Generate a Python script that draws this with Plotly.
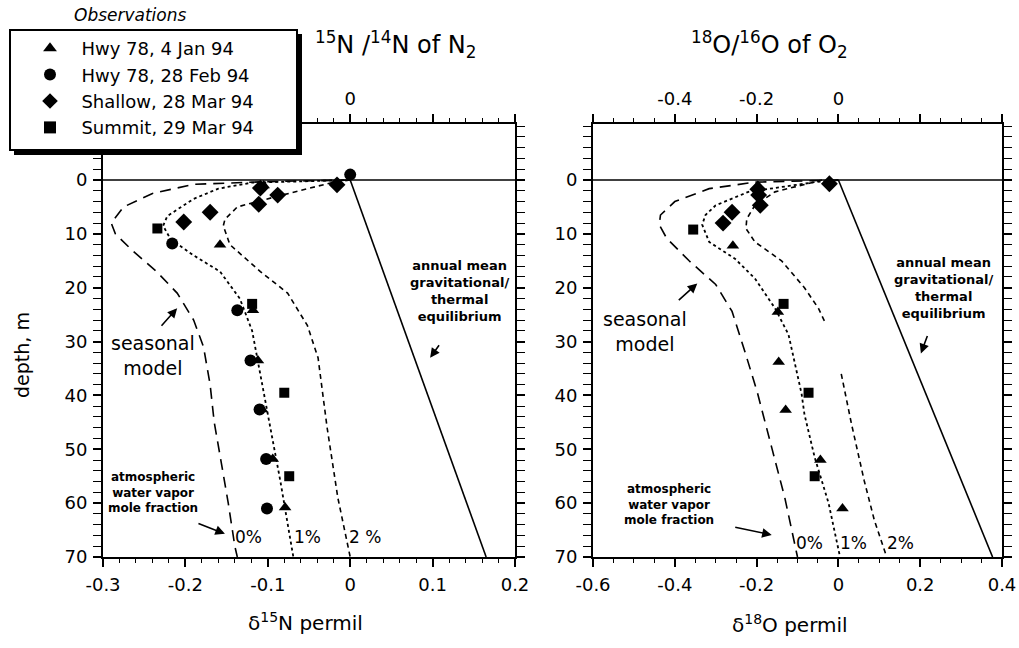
import plotly.graph_objects as go

# ---------------- data ----------------
# delta 15N (left panel)
n_jan_depth = [1.0, 12, 24.2, 33.5, 42.6, 51.8, 60.8]
n_jan_val = [-0.105, -0.158, -0.118, -0.112, -0.107, -0.094, -0.079]
n_feb_depth = [-1.0, 11.8, 24.2, 33.5, 42.6, 51.8, 61]
n_feb_val = [0.0, -0.216, -0.137, -0.121, -0.110, -0.102, -0.101]
n_sha_depth = [0.9, 1.5, 2.8, 4.5, 6, 7.8]
n_sha_val = [-0.016, -0.109, -0.088, -0.111, -0.170, -0.202]
n_sum_depth = [9, 23, 39.5, 55]
n_sum_val = [-0.234, -0.119, -0.080, -0.074]

n_m0_depth = [0, 0.3, 0.8, 2.5, 5, 8, 10, 13, 17, 21, 26, 31, 38, 45, 52, 60, 68, 70]
n_m0_val = [0.0, -0.10, -0.19, -0.24, -0.275, -0.29, -0.285, -0.265, -0.235, -0.21, -0.19, -0.178, -0.17, -0.165, -0.157, -0.148, -0.14, -0.137]
n_m1_depth = [0, 0.2, 0.5, 1.6, 3.5, 6.7, 8.5, 11, 14, 17, 22, 28, 39.5, 46, 55.7, 70]
n_m1_val = [0.0, -0.05, -0.12, -0.16, -0.19, -0.222, -0.227, -0.218, -0.19, -0.158, -0.134, -0.119, -0.105, -0.097, -0.085, -0.069]
n_m2_depth = [0, 0.4, 3, 5, 7.3, 8.5, 12, 17, 21, 27, 33, 40, 46, 59, 70]
n_m2_val = [0.0, -0.02, -0.088, -0.137, -0.152, -0.154, -0.146, -0.109, -0.076, -0.052, -0.039, -0.033, -0.028, -0.015, 0.0]
n_eq_depth = [0, 70]
n_eq_val = [0.0, 0.165]

# delta 18O (right panel)
o_jan_depth = [1.1, 12.2, 24.5, 33.8, 42.7, 52, 61]
o_jan_val = [-0.197, -0.258, -0.148, -0.146, -0.129, -0.044, 0.01]
o_sha_depth = [0.7, 1.7, 2.8, 4.7, 6, 8]
o_sha_val = [-0.022, -0.197, -0.195, -0.191, -0.26, -0.282]
o_sum_depth = [9.2, 23, 39.5, 55]
o_sum_val = [-0.355, -0.134, -0.073, -0.058]

o_m0_depth = [0, 0.4, 1.6, 4, 6.5, 8.3, 10.8, 15, 19.4, 24.4, 32, 39.5, 49.7, 59, 69.3, 70]
o_m0_val = [0.0, -0.204, -0.316, -0.4, -0.435, -0.438, -0.42, -0.365, -0.3, -0.26, -0.228, -0.198, -0.163, -0.131, -0.102, -0.1]
o_m1_depth = [0, 0.4, 2.2, 4.7, 6.5, 8.3, 11.5, 14.6, 18.3, 23.8, 28.7, 39.7, 43.5, 51.5, 60, 70]
o_m1_val = [0.0, -0.058, -0.22, -0.3, -0.325, -0.333, -0.316, -0.253, -0.204, -0.155, -0.122, -0.09, -0.083, -0.058, -0.024, 0.004]
o_m2_depth = [0, 2.2, 4.7, 7.2, 9, 11.5, 15, 20, 23.8, 26.2, None, 36, 45.3, 55.8, 63.2, 70]
o_m2_val = [-0.04, -0.155, -0.204, -0.224, -0.226, -0.204, -0.139, -0.083, -0.049, -0.034, None, 0.007, 0.032, 0.063, 0.088, 0.118]
o_eq_depth = [0, 70]
o_eq_val = [0.0, 0.377]

series_names = ["Hwy 78, 4 Jan 94", "Hwy 78, 28 Feb 94", "Shallow, 28 Mar 94", "Summit, 29 Mar 94"]
y_ticks = [0, 10, 20, 30, 40, 50, 60, 70]

# ---------------- figure ----------------
W, H = 1019, 648
FONT = "DejaVu Sans, Arial, sans-serif"
fig = go.Figure()

sym = {"jan": ("triangle-up", 11), "feb": ("circle", 12), "sha": ("diamond", 13), "sum": ("square", 10)}
PAD = "\u00a0\u00a0"


def add_points(x, y, key, name, xa, ya, show):
    s, sz = sym[key]
    fig.add_trace(go.Scatter(x=x, y=y, mode="markers", name=PAD + name, showlegend=show,
                             marker=dict(symbol=s, size=sz, color="black"),
                             xaxis=xa, yaxis=ya))


def add_line(x, y, dash, xa, ya, width=1.6):
    fig.add_trace(go.Scatter(x=x, y=y, mode="lines", showlegend=False, connectgaps=False,
                             line=dict(color="black", width=width, dash=dash),
                             xaxis=xa, yaxis=ya, hoverinfo="skip"))


LONG = "11px,7px"
SHORT = "5px,4px"
# left
add_line(n_m0_val, n_m0_depth, LONG, "x", "y")
add_line(n_m1_val, n_m1_depth, "dot", "x", "y", 1.8)
add_line(n_m2_val, n_m2_depth, SHORT, "x", "y")
add_line(n_eq_val, n_eq_depth, "solid", "x", "y", 1.6)
add_points(n_jan_val, n_jan_depth, "jan", series_names[0], "x", "y", True)
add_points(n_feb_val, n_feb_depth, "feb", series_names[1], "x", "y", True)
add_points(n_sha_val, n_sha_depth, "sha", series_names[2], "x", "y", True)
add_points(n_sum_val, n_sum_depth, "sum", series_names[3], "x", "y", True)
# right
add_line(o_m0_val, o_m0_depth, LONG, "x2", "y2")
add_line(o_m1_val, o_m1_depth, "dot", "x2", "y2", 1.8)
add_line(o_m2_val, o_m2_depth, SHORT, "x2", "y2")
add_line(o_eq_val, o_eq_depth, "solid", "x2", "y2", 1.6)
add_points(o_jan_val, o_jan_depth, "jan", series_names[0], "x2", "y2", False)
add_points(o_sha_val, o_sha_depth, "sha", series_names[2], "x2", "y2", False)
add_points(o_sum_val, o_sum_depth, "sum", series_names[3], "x2", "y2", False)

xd1 = [103 / W, 515 / W]
xd2 = [593 / W, 1002 / W]
yd = [1 - 557 / H, 1 - 124 / H]
YR = [70, -10.4]

tickfont = dict(family=FONT, size=18, color="black")
common_x = dict(showgrid=False, zeroline=False, showline=True, linecolor="black", linewidth=2,
                mirror="allticks", ticks="outside", ticklen=8, tickwidth=1.5, tickcolor="black",
                tickfont=tickfont, ticklabelstandoff=2, automargin=False)
common_y = dict(showgrid=False, zeroline=False, showline=True, linecolor="black", linewidth=2,
                mirror="allticks", ticks="outside", ticklen=8, tickwidth=1.5, tickcolor="black",
                tickfont=tickfont, range=YR, tickvals=y_ticks, ticklabelstandoff=2, automargin=False,
                minor=dict(dtick=2, ticks="outside", ticklen=4, tickcolor="black", tickwidth=1))

fig.update_layout(
    width=W, height=H, margin=dict(l=0, r=0, t=0, b=0),
    paper_bgcolor="white", plot_bgcolor="white",
    font=dict(family=FONT, color="black"),
    xaxis=dict(domain=xd1, range=[-0.3, 0.2], anchor="y", tickvals=[-0.3, -0.2, -0.1, 0, 0.1, 0.2],
               ticktext=["-0.3", "-0.2", "-0.1", "0", "0.1", "0.2"],
               minor=dict(dtick=0.02, ticks="outside", ticklen=4, tickcolor="black", tickwidth=1),
               **common_x),
    yaxis=dict(domain=yd, anchor="x", **common_y),
    xaxis2=dict(domain=xd2, range=[-0.6, 0.4], anchor="y2", tickvals=[-0.6, -0.4, -0.2, 0, 0.2, 0.4],
                ticktext=["-0.6", "-0.4", "-0.2", "0", "0.2", "0.4"],
                minor=dict(dtick=0.05, ticks="outside", ticklen=4, tickcolor="black", tickwidth=1),
                **common_x),
    yaxis2=dict(domain=yd, anchor="x2", **common_y),
    xaxis3=dict(overlaying="x", side="top", range=[-0.3, 0.2], tickvals=[0], ticktext=["0"],
                showline=False, ticks="", showgrid=False, zeroline=False, tickfont=tickfont,
                ticklabelstandoff=14, anchor="y", automargin=False),
    xaxis4=dict(overlaying="x2", side="top", range=[-0.6, 0.4], tickvals=[-0.4, -0.2, 0],
                ticktext=["-0.4", "-0.2", "0"], showline=False, ticks="", showgrid=False,
                zeroline=False, tickfont=tickfont, ticklabelstandoff=14, anchor="y2", automargin=False),
    legend=dict(x=30 / W, y=1 - 30 / H, xanchor="left", yanchor="top", bgcolor="rgba(0,0,0,0)",
                borderwidth=0, font=dict(family=FONT, size=18, color="black"),
                itemsizing="constant", tracegroupgap=0),
)
# dummy traces on top axes so they render
fig.add_trace(go.Scatter(x=[None], y=[None], xaxis="x3", yaxis="y", showlegend=False))
fig.add_trace(go.Scatter(x=[None], y=[None], xaxis="x4", yaxis="y2", showlegend=False))

# zero-depth lines
for xr, yr in (("x", "y"), ("x2", "y2")):
    fig.add_shape(type="line", xref=xr + " domain", yref=yr, x0=0, x1=1, y0=0, y1=0,
                  line=dict(color="black", width=1.5))
# legend box with drop shadow
fig.add_shape(type="rect", xref="paper", yref="paper", x0=14 / W, x1=302 / W,
              y0=1 - 155 / H, y1=1 - 34 / H, fillcolor="black", line=dict(width=0), layer="above")
fig.add_shape(type="rect", xref="paper", yref="paper", x0=10 / W, x1=297 / W,
              y0=1 - 150 / H, y1=1 - 30 / H, fillcolor="white", line=dict(width=2, color="black"),
              layer="above")

ann = []
mid = dict(family=FONT, size=17, color="black")
seas = dict(family=FONT, size=19, color="black")
eqf = dict(family=FONT, size=13, color="black")
atm = dict(family=FONT, size=12, color="black")


def txt(x, y, text, xr, yr, font, **kw):
    ann.append(dict(x=x, y=y, xref=xr, yref=yr, text=text, showarrow=False, font=font,
                    xanchor="center", yanchor="middle", **kw))


def arrow(x, y, ax, ay, xr, yr):
    ann.append(dict(x=x, y=y, xref=xr, yref=yr, ax=ax, ay=ay, text="", showarrow=True,
                    arrowhead=2, arrowsize=1.2, arrowwidth=1.6, arrowcolor="black"))


# left panel annotations
txt(0.133, 20.7, "<b>annual mean<br>gravitational/<br>thermal<br>equilibrium</b>", "x", "y", eqf)
arrow(0.097, 33.0, 10, -14, "x", "y")
txt(-0.239, 32.6, "seasonal<br>model", "x", "y", seas)
arrow(-0.21, 23.8, -17, 19, "x", "y")
txt(-0.239, 58.1, "<b>atmospheric<br>water vapor<br>mole fraction</b>", "x", "y", atm)
arrow(-0.152, 65.7, -28, -11, "x", "y")
txt(-0.124, 66.3, "0%", "x", "y", mid)
txt(-0.052, 66.3, "1%", "x", "y", mid)
txt(0.018, 66.3, "2 %", "x", "y", mid)

# right panel annotations
txt(0.258, 20.1, "<b>annual mean<br>gravitational/<br>thermal<br>equilibrium</b>", "x2", "y2", eqf)
arrow(0.2017, 32.2, 7, -19, "x2", "y2")
txt(-0.474, 28.1, "seasonal<br>model", "x2", "y2", seas)
arrow(-0.345, 19.2, -20, 18, "x2", "y2")
txt(-0.413, 60.3, "<b>atmospheric<br>water vapor<br>mole fraction</b>", "x2", "y2", atm)
arrow(-0.163, 65.9, -38, -8, "x2", "y2")
txt(-0.07, 67.4, "0%", "x2", "y2", mid)
txt(0.036, 67.4, "1%", "x2", "y2", mid)
txt(0.153, 67.4, "2%", "x2", "y2", mid)

# titles and axis titles
big = dict(family=FONT, size=24, color="black")
txt(395 / W, 1 - 45 / H, "<sup>15</sup>N /<sup>14</sup>N of N<sub>2</sub>", "paper", "paper", big)
txt(769 / W, 1 - 45 / H, "<sup>18</sup>O/<sup>16</sup>O of O<sub>2</sub>", "paper", "paper", big)
txt(305 / W, 1 - 622 / H, "δ<sup>15</sup>N permil", "paper", "paper", dict(family=FONT, size=20, color="black"))
txt(790 / W, 1 - 624 / H, "δ<sup>18</sup>O permil", "paper", "paper", dict(family=FONT, size=20, color="black"))
txt(22 / W, 1 - 355 / H, "depth, m", "paper", "paper", dict(family=FONT, size=19, color="black"), textangle=-90)
txt(130 / W, 1 - 15 / H, "<i>Observations</i>", "paper", "paper", dict(family=FONT, size=17, color="black"))

fig.update_layout(annotations=ann)
fig.write_html("out.html")
